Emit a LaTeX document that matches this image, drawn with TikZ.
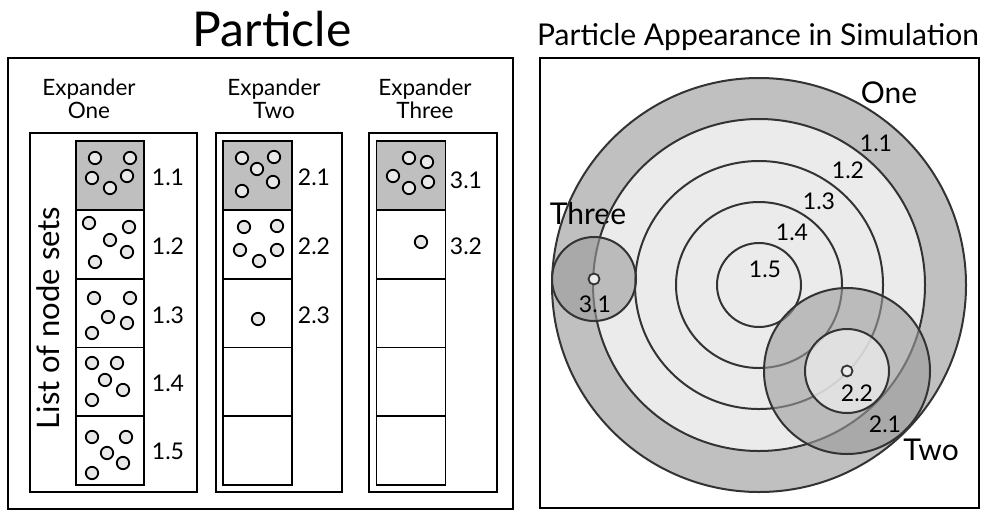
\documentclass[tikz,border=0pt]{standalone}
\usepackage{fontspec}
\setmainfont{Lato}
\definecolor{cellgray}{HTML}{BFBFBF}
\definecolor{dotfill}{HTML}{E8E8E8}
\definecolor{ringgray}{HTML}{C0C0C0}
\definecolor{innergray}{HTML}{EBEBEB}
\definecolor{circline}{HTML}{333333}
\definecolor{overlay}{HTML}{9B9B9B}
\begin{document}
\begin{tikzpicture}[x=1pt,y=-1pt,
  frame/.style={draw=black, line width=2pt},
  cellbox/.style={draw=black, line width=1.8pt, minimum height=68.8pt, inner sep=0pt},
  graycell/.style={cellbox, fill=cellgray},
  dotst/.style={draw=black, line width=1.8pt, fill=dotfill},
  lbl/.style={font=\fontsize{23}{25}\selectfont, inner sep=0pt},
  rlbl/.style={font=\fontsize{23}{25}\selectfont, inner sep=0pt},
  exlbl/.style={font=\fontsize{22.5}{23.5}\selectfont, align=center, inner sep=0pt},
  bigtitle/.style={font=\fontsize{48}{52}\selectfont, inner sep=0pt},
  rtitle/.style={font=\fontsize{30}{32}\selectfont, inner sep=0pt},
  namelbl/.style={font=\fontsize{30}{32}\selectfont, inner sep=0pt},
  circ/.style={draw=circline, line width=2pt},
  ovl/.style={fill=overlay, fill opacity=0.6},
  sdot/.style={draw=circline, line width=1.8pt, fill=innergray}]
\useasboundingbox (0,0) rectangle (984,512);
\fill[white] (0,0) rectangle (984,512);

% ---------- left panel ----------
\node[bigtitle] (title) at (272,29) {Particle};
\draw[frame] (8,58) rectangle (513,509);
\draw[frame] (30,133) rectangle (197,492);
\draw[frame] (216,133) rectangle (342,492);
\draw[frame] (369,133) rectangle (497,492);

\node[exlbl] (ex1) at (89,99) {Expander\\One};
\node[exlbl] (ex2) at (274,99) {Expander\\Two};
\node[exlbl] (ex3) at (425,99) {Expander\\Three};

\node[font=\fontsize{31}{33}\selectfont, rotate=90, inner sep=0pt] (list) at (48,318) {List of node sets};

% column 1
\node[graycell, minimum width=68pt] (c11) at (110,175.4) {};
\node[cellbox, minimum width=68pt] (c12) at (110,244.2) {};
\node[cellbox, minimum width=68pt] (c13) at (110,313.0) {};
\node[cellbox, minimum width=68pt] (c14) at (110,381.8) {};
\node[cellbox, minimum width=68pt] (c15) at (110,450.6) {};
% column 2
\node[graycell, minimum width=69pt] (c21) at (257.5,175.4) {};
\node[cellbox, minimum width=69pt] (c22) at (257.5,244.2) {};
\node[cellbox, minimum width=69pt] (c23) at (257.5,313.0) {};
\node[cellbox, minimum width=69pt] (c24) at (257.5,381.8) {};
\node[cellbox, minimum width=69pt] (c25) at (257.5,450.6) {};
% column 3
\node[graycell, minimum width=69pt] (c31) at (411,175.4) {};
\node[cellbox, minimum width=69pt] (c32) at (411,244.2) {};
\node[cellbox, minimum width=69pt] (c33) at (411,313.0) {};
\node[cellbox, minimum width=69pt] (c34) at (411,381.8) {};
\node[cellbox, minimum width=69pt] (c35) at (411,450.6) {};

% dots
\foreach \p in {(95,158),(130,158),(92,178),(127,176),(110,188),
                (89,223),(129,227),(110,240),(127,252),(95,262),
                (94,298),(130,298),(108,317),(127,323),(92,333),
                (92,363),(117,363),(105,380),(123,390),(92,400),
                (92,437),(126,437),(107,453),(123,463),(92,473),
                (242,158),(274,157),(257,169),(273,182),(242,191),
                (244,227),(277,226),(240,250),(259,261),(277,250),
                (258,319),
                (409,158),(427,162),(393,176),(428,182),(409,188),
                (421,242)}
  \draw[dotst] \p circle (6.2);

% cell labels
\node[lbl] (l11) at (168,177) {1.1};
\node[lbl] (l12) at (168,246) {1.2};
\node[lbl] (l13) at (168,315) {1.3};
\node[lbl] (l14) at (168,383) {1.4};
\node[lbl] (l15) at (168,451) {1.5};
\node[lbl] (l21) at (314,177) {2.1};
\node[lbl] (l22) at (314,246) {2.2};
\node[lbl] (l23) at (314,315) {2.3};
\node[lbl] (l31) at (466,180) {3.1};
\node[lbl] (l32) at (466,246) {3.2};

% ---------- right panel ----------
\node[rtitle] (rtitle) at (758,37) {Particle Appearance in Simulation};
\draw[frame] (540,58) rectangle (979,508);

\coordinate (cone) at (759,285);
\coordinate (cthree) at (594,279);
\coordinate (ctwo) at (847,371);

\fill[ringgray] (cone) circle (207);
\fill[innergray] (cone) circle (166);

\node[namelbl] (none) at (889,93) {One};
\node[namelbl] (nthree) at (588,214) {Three};
\node[namelbl] (ntwo) at (931,450) {Two};

\foreach \r in {207,166,124,83,42}
  \draw[circ] (cone) circle (\r);

\node[rlbl] (r11) at (876,143) {1.1};
\node[rlbl] (r12) at (848,170) {1.2};
\node[rlbl] (r13) at (819,201) {1.3};
\node[rlbl] (r14) at (792,232) {1.4};
\node[rlbl] (r15) at (765,269) {1.5};

% Three
\fill[ovl] (cthree) circle (42);
\draw[circ] (cthree) circle (42);
\draw[sdot] (cthree) circle (5.5);
\node[rlbl] (r31) at (595,304) {3.1};

% Two
\fill[ovl] (ctwo) circle (83);
\fill[innergray, fill opacity=0.78] (ctwo) circle (42);
\draw[circ] (ctwo) circle (83);
\draw[circ] (ctwo) circle (42);
\draw[sdot] (ctwo) circle (5.5);
\node[rlbl] (r22) at (857,393) {2.2};
\node[rlbl] (r21) at (885,424) {2.1};
\end{tikzpicture}
\end{document}
